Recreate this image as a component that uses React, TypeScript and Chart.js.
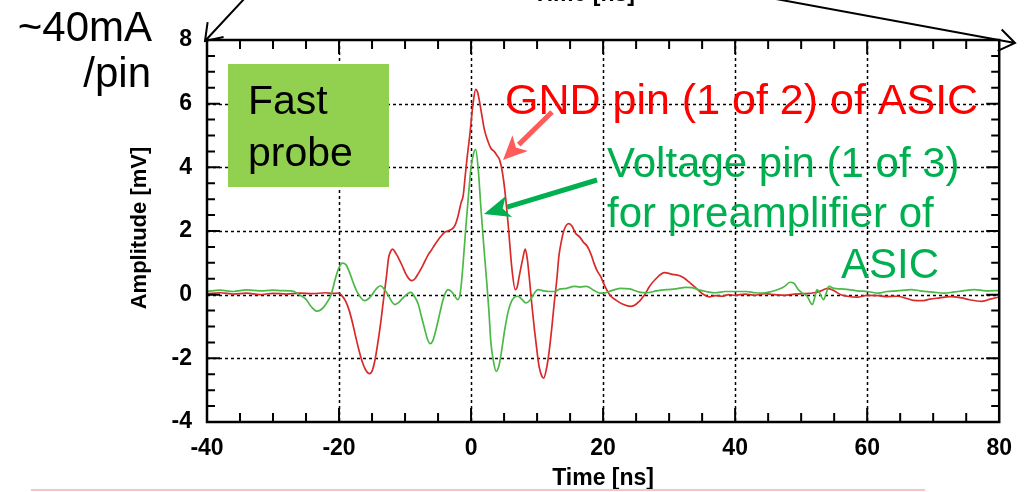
import { useEffect, useRef } from 'react';
import { Chart, registerables } from 'chart.js';

Chart.register(...registerables);

// ---------- data ----------
const gndTime = [
  -40, -38, -36, -34, -32, -30, -28, -26, -24, -22, -21, -20, -19.5, -19, -18.5, -18, -17.5, -17, -16.5, -16,
  -15.4, -15, -14.6, -14.2, -13.7, -13.2, -12.8, -12.5, -12.2, -11.9, -11.4, -11, -10.5, -10, -9.5, -9, -8.5, -8,
  -7.5, -7, -6.5, -6, -5.5, -5, -4.5, -4, -3.5, -3, -2.5, -2, -1.5, -1.2, -0.9, -0.6, -0.2, 0.3, 0.7, 1.0, 1.5,
  2.0, 2.5, 3.0, 3.5, 4.0, 4.3, 4.7, 5.1, 5.6, 6.2, 6.7, 7.0, 7.3, 7.8, 8.2, 8.5, 8.8, 9.2, 9.6, 10.0, 10.3, 10.7,
  11.0, 11.4, 11.8, 12.2, 12.6, 13.0, 13.3, 13.7, 14.1, 14.8, 15.3, 15.8, 16.5, 17.0, 17.6, 18.2, 18.6, 19.1, 19.6,
  20.2, 21.0, 22.0, 23.0, 24.2, 25.0, 26.3, 27.0, 28.0, 29.3, 30.5, 31.5, 32.2, 33.0, 34.0, 35.1, 36.1, 37.0, 38.0,
  39.0, 40.0, 41.5, 43.0, 44.5, 46.0, 47.5, 49.0, 50.5, 52.0, 53.0, 54.0, 55.0, 56.0, 57.0, 58.5, 60.0, 61.7, 63.0,
  64.5, 66.0, 67.0, 68.3, 69.5, 71.0, 72.5, 74.3, 75.5, 77.3, 78.5, 80,
];
const gndAmp = [
  0.03, 0.06, 0.02, 0.05, 0.0, 0.04, 0.02, 0.05, 0.03, 0.06, 0.04, 0.05, -0.05, -0.2, -0.47, -0.85, -1.3, -1.73, -2.1, -2.35,
  -2.48, -2.4, -2.1, -1.62, -0.9, -0.05, 0.6, 1.15, 1.35, 1.43, 1.3, 1.15, 0.94, 0.7, 0.52, 0.44, 0.5, 0.66,
  0.84, 1.05, 1.25, 1.4, 1.57, 1.72, 1.85, 1.96, 2.0, 2.05, 2.15, 2.45, 2.9, 3.1, 3.7, 4.3, 5.0, 6.0, 6.45, 6.35, 5.8,
  5.2, 4.85, 4.6, 4.5, 4.35, 4.25, 3.9, 3.3, 2.25, 0.79, 0.16, 0.25, 0.58, 1.1, 1.43, 1.15, 0.58, -0.3, -1.1, -1.8, -2.25, -2.55,
  -2.62, -2.35, -1.83, -1.1, -0.26, 0.5, 1.2, 1.7, 2.04, 2.23, 2.15, 1.94, 1.8, 1.65, 1.52, 1.25, 1.0, 0.75, 0.58,
  0.3, 0.0, -0.18, -0.3, -0.37, -0.3, 0.0, 0.25, 0.5, 0.69, 0.64, 0.6, 0.53, 0.4, 0.22, 0.02, -0.07, -0.03, -0.05,
  0.0, -0.02, 0.02, -0.02, 0.03, 0.0, -0.02, 0.02, 0.03, 0.06, 0.12, 0.2, 0.12, 0.0, -0.05, -0.08, -0.02, -0.03, -0.06,
  -0.05, -0.12, -0.18, -0.19, -0.14, -0.1, -0.06, -0.1, -0.16, -0.21, -0.15, -0.07,
];

const vccTime = [
  -40, -38, -36, -34, -32, -30, -29, -27.5, -26.8, -26, -25, -24.2, -23.3, -22.6, -22, -21.2, -20.5, -20, -19.5, -19,
  -18.5, -17.8, -17.3, -16.6, -16.1, -15.5, -15, -14.3, -13.7, -13.1, -12.6, -12, -11.5, -11, -10.3, -9.6, -9.1, -8.6,
  -8, -7.5, -7, -6.6, -6.2, -5.8, -5.2, -4.7, -4.3, -3.9, -3.5, -3.0, -2.6, -2.0, -1.6, -1.2, -0.8, -0.4, 0.0, 0.4, 0.7,
  1.1, 1.5, 1.9, 2.3, 2.7, 3.0, 3.4, 3.8, 4.2, 4.6, 5.1, 5.6, 6.1, 6.6, 7.1, 7.7, 8.3, 9.0, 9.6, 10.1, 11.0, 12.0, 12.6,
  13.5, 14.5, 15.6, 16.5, 17.5, 18.5, 19.5, 20.1, 21.2, 22.6, 24.0, 25.5, 26.6, 28.1, 29.6, 31.0, 32.5, 33.5, 34.5, 35.6,
  37.0, 38.5, 40.1, 41.7, 43.0, 44.1, 45.5, 46.5, 47.5, 48.3, 48.9, 49.6, 50.2, 50.9, 51.7, 52.1, 52.4, 52.8, 53.4, 53.8,
  54.2, 55.0, 56.0, 57.2, 58.5, 60.0, 61.7, 63.0, 64.5, 66.7, 68.0, 70.0, 71.7, 73.0, 74.5, 76.2, 78.0, 80,
];
const vccAmp = [
  0.1, 0.14, 0.1, 0.15, 0.12, 0.14, 0.13, 0.12, 0.1, 0.0, -0.15, -0.38, -0.52, -0.45, -0.3, 0.0, 0.55, 0.85, 0.99, 0.95,
  0.75, 0.35, 0.1, -0.12, -0.19, -0.12, 0.0, 0.2, 0.28, 0.15, 0.0, -0.22, -0.31, -0.25, -0.1, 0.03, 0.07, -0.05,
  -0.3, -0.7, -1.1, -1.4, -1.54, -1.45, -1.0, -0.55, -0.2, 0.05, 0.16, 0.1, 0.0, -0.16, 0.1, 1.0, 2.1, 3.1, 4.0, 4.45, 4.56,
  3.9, 2.7, 1.6, 0.58, -0.5, -1.5, -2.1, -2.41, -2.25, -1.8, -1.1, -0.55, -0.22, -0.08, -0.05, -0.15, -0.26, -0.15, 0.05, 0.16, 0.12, 0.1, 0.1,
  0.18, 0.2, 0.26, 0.24, 0.26, 0.15, 0.05, 0.05, 0.12, 0.2, 0.18, 0.08, 0.06, 0.12, 0.16, 0.18, 0.23, 0.22, 0.15, 0.1,
  0.06, 0.1, 0.1, 0.1, 0.06, 0.05, 0.1, 0.16, 0.26, 0.39, 0.36, 0.15, 0.05, -0.05, -0.31, -0.05, 0.16, 0.05, -0.16, 0.05,
  0.26, 0.2, 0.18, 0.16, 0.12, 0.1, 0.05, 0.1, 0.12, 0.16, 0.12, 0.08, 0.05, 0.08, 0.12, 0.16, 0.12, 0.13,
];

const xTickLabels = [-40, -20, 0, 20, 40, 60, 80];
const yTickLabels = [-4, -2, 0, 2, 4, 6, 8];

const TICK_FONT = "'Liberation Sans', Arial, sans-serif";
const TEXT_FONT = "'Liberation Sans', Arial, sans-serif";

function drawFilledArrow(ctx: CanvasRenderingContext2D, x1: number, y1: number, x2: number, y2: number,
  color: string, width: number, headLen: number, headHalf: number) {
  const ang = Math.atan2(y2 - y1, x2 - x1);
  const bx = x2 - headLen * Math.cos(ang);
  const by = y2 - headLen * Math.sin(ang);
  ctx.save();
  ctx.strokeStyle = color;
  ctx.fillStyle = color;
  ctx.lineWidth = width;
  ctx.lineCap = 'butt';
  ctx.beginPath();
  ctx.moveTo(x1, y1);
  ctx.lineTo(bx + Math.cos(ang) * 2, by + Math.sin(ang) * 2);
  ctx.stroke();
  ctx.beginPath();
  ctx.moveTo(x2, y2);
  ctx.lineTo(bx + headHalf * Math.sin(ang), by - headHalf * Math.cos(ang));
  ctx.lineTo(bx + headLen * 0.25 * Math.cos(ang), by + headLen * 0.25 * Math.sin(ang));
  ctx.lineTo(bx - headHalf * Math.sin(ang), by + headHalf * Math.cos(ang));
  ctx.closePath();
  ctx.fill();
  ctx.restore();
}

function drawOpenArrow(ctx: CanvasRenderingContext2D, x1: number, y1: number, x2: number, y2: number) {
  const back = Math.atan2(y1 - y2, x1 - x2);
  const a = (35 * Math.PI) / 180;
  const L = 19;
  ctx.save();
  ctx.strokeStyle = '#000';
  ctx.lineWidth = 2;
  ctx.beginPath();
  ctx.moveTo(x1, y1);
  ctx.lineTo(x2, y2);
  ctx.moveTo(x2 + L * Math.cos(back + a), y2 + L * Math.sin(back + a));
  ctx.lineTo(x2, y2);
  ctx.lineTo(x2 + L * Math.cos(back - a), y2 + L * Math.sin(back - a));
  ctx.stroke();
  ctx.restore();
}

const framePlugin = {
  id: 'framePlugin',
  beforeDatasetsDraw(chart: any) {
    const { ctx, chartArea: ca, scales } = chart;
    const xs = scales.x;
    const ys = scales.y;
    ctx.save();
    ctx.strokeStyle = '#000';
    ctx.lineWidth = 1.5;
    ctx.setLineDash([3, 3]);
    for (const v of xTickLabels) {
      if (v === xs.min || v === xs.max) continue;
      const px = Math.round(xs.getPixelForValue(v)) + 0.5;
      ctx.beginPath();
      ctx.moveTo(px, ca.top);
      ctx.lineTo(px, ca.bottom);
      ctx.stroke();
    }
    for (const v of yTickLabels) {
      if (v === ys.min || v === ys.max) continue;
      const py = Math.round(ys.getPixelForValue(v)) + 0.5;
      ctx.beginPath();
      ctx.moveTo(ca.left, py);
      ctx.lineTo(ca.right, py);
      ctx.stroke();
    }
    ctx.restore();
  },
  afterDatasetsDraw(chart: any) {
    const { ctx, chartArea: ca, scales } = chart;
    const xs = scales.x;
    const ys = scales.y;
    ctx.save();
    ctx.strokeStyle = '#000';
    ctx.setLineDash([]);
    ctx.lineWidth = 2;
    for (let v = xs.min + 5; v < xs.max; v += 5) {
      const px = xs.getPixelForValue(v);
      const len = v % 20 === 0 ? 14 : 9;
      ctx.beginPath();
      ctx.moveTo(px, ca.bottom);
      ctx.lineTo(px, ca.bottom - len);
      ctx.moveTo(px, ca.top);
      ctx.lineTo(px, ca.top + len);
      ctx.stroke();
    }
    for (let v = ys.min + 0.5; v < ys.max; v += 0.5) {
      const py = ys.getPixelForValue(v);
      const len = Math.abs(v % 2) < 1e-9 ? 13 : 8;
      ctx.beginPath();
      ctx.moveTo(ca.left, py);
      ctx.lineTo(ca.left + len, py);
      ctx.moveTo(ca.right, py);
      ctx.lineTo(ca.right - len, py);
      ctx.stroke();
    }
    ctx.lineWidth = 2.5;
    ctx.strokeRect(ca.left, ca.top, ca.right - ca.left, ca.bottom - ca.top);
    ctx.restore();
  },
  afterDraw(chart: any) {
    const { ctx, chartArea: ca } = chart;
    ctx.save();
    ctx.fillStyle = '#000';
    ctx.font = `bold 23px ${TICK_FONT}`;
    ctx.textAlign = 'center';
    ctx.textBaseline = 'middle';
    ctx.fillText('Time [ns]', (ca.left + ca.right) / 2, 479);
    ctx.fillText('Time [ns]', 584, -5);
    ctx.save();
    ctx.translate(140, 228);
    ctx.rotate(-Math.PI / 2);
    ctx.font = `bold 22px ${TICK_FONT}`;
    ctx.fillText('Amplitude [mV]', 0, 0);
    ctx.restore();

    drawOpenArrow(ctx, 245, -2, 205, 41);
    drawOpenArrow(ctx, 776, -1, 1015, 43);

    ctx.textAlign = 'right';
    ctx.textBaseline = 'alphabetic';
    ctx.font = `42px ${TEXT_FONT}`;
    ctx.fillText('~40mA', 152, 41);
    ctx.fillText('/pin', 151, 87);

    ctx.fillStyle = '#92d050';
    ctx.fillRect(228, 64, 161, 123);
    ctx.fillStyle = '#000';
    ctx.textAlign = 'left';
    ctx.font = `41px ${TEXT_FONT}`;
    ctx.fillText('Fast', 248, 114);
    ctx.fillText('probe', 248, 166);

    ctx.fillStyle = '#ff0000';
    ctx.font = `43px ${TEXT_FONT}`;
    ctx.fillText('GND pin (1 of 2) of ASIC', 505, 114);
    ctx.fillStyle = '#00b050';
    ctx.font = `42px ${TEXT_FONT}`;
    ctx.fillText('Voltage pin (1 of 3)', 607, 177);
    ctx.fillText('for preamplifier of', 607, 227);
    ctx.textAlign = 'right';
    ctx.fillText('ASIC', 939, 278);

    drawFilledArrow(ctx, 552, 112, 503, 160, '#ff5b5b', 5, 24, 11);
    drawFilledArrow(ctx, 597, 180, 484, 214, '#00b050', 5, 26, 11);

    ctx.strokeStyle = '#f5c4c4';
    ctx.lineWidth = 2;
    ctx.beginPath();
    ctx.moveTo(31, 490);
    ctx.lineTo(925, 490);
    ctx.stroke();
    ctx.restore();
  },
};

export default function App() {
  const ref = useRef<HTMLCanvasElement>(null);
  useEffect(() => {
    document.body.style.margin = '0';
    const canvas = ref.current!;
    const chart = new Chart(canvas, {
      type: 'line',
      data: {
        datasets: [
          {
            label: 'Voltage pin',
            data: vccTime.map((t, i) => ({ x: t, y: vccAmp[i] })),
            borderColor: '#4cb848',
            borderWidth: 1.7,
            pointRadius: 0,
            cubicInterpolationMode: 'monotone',
          },
          {
            label: 'GND pin',
            data: gndTime.map((t, i) => ({ x: t, y: gndAmp[i] })),
            borderColor: '#d92a2a',
            borderWidth: 1.7,
            pointRadius: 0,
            cubicInterpolationMode: 'monotone',
          },
        ],
      },
      options: {
        animation: false,
        responsive: false,
        devicePixelRatio: 1,
        layout: { padding: { left: 0, right: 20, top: 40, bottom: 0 } },
        plugins: { legend: { display: false }, tooltip: { enabled: false } },
        scales: {
          x: {
            type: 'linear',
            min: -40,
            max: 80,
            grid: { display: false, drawTicks: false },
            border: { display: false },
            ticks: {
              stepSize: 20,
              padding: 13,
              color: '#000',
              maxRotation: 0,
              autoSkip: false,
              font: { family: TICK_FONT, size: 23, weight: 'bold' },
            },
            afterFit: (s: any) => { s.height = 70; },
          },
          y: {
            type: 'linear',
            min: -4,
            max: 8,
            grid: { display: false, drawTicks: false },
            border: { display: false },
            ticks: {
              stepSize: 2,
              padding: 15,
              color: '#000',
              autoSkip: false,
              font: { family: TICK_FONT, size: 23, weight: 'bold' },
            },
            afterFit: (s: any) => { s.width = 207; },
          },
        },
      },
      plugins: [framePlugin],
    } as any);
    return () => chart.destroy();
  }, []);
  return (
    <canvas ref={ref} width={1025} height={492} style={{ display: 'block', width: 1025, height: 492 }} />
  );
}
